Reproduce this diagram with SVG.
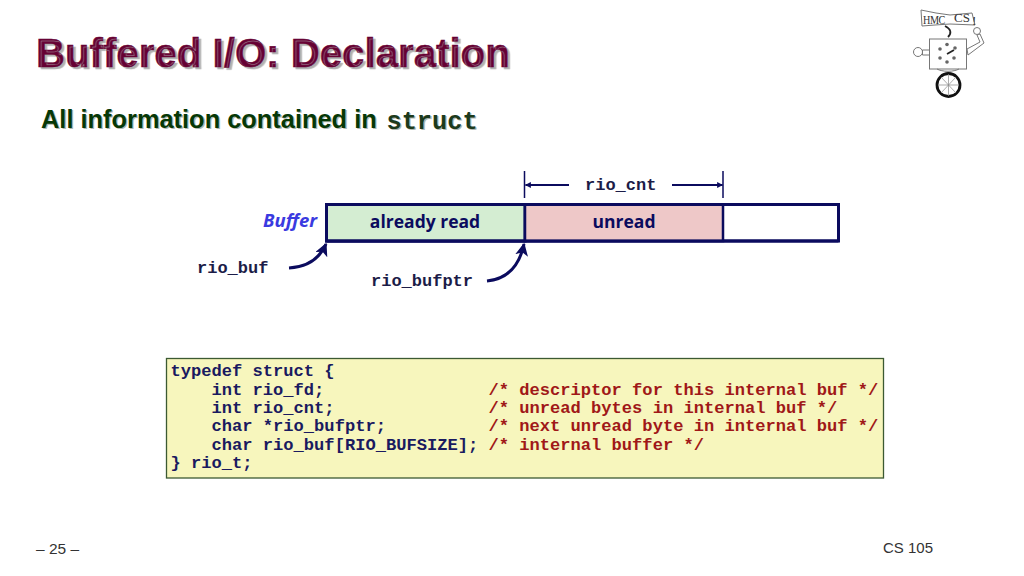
<svg xmlns="http://www.w3.org/2000/svg" width="1024" height="576" viewBox="0 0 1024 576">
<defs>
<style>
text{white-space:pre}
.s{font-family:"Liberation Sans",Arial,sans-serif}
.m{font-family:"Liberation Mono","Courier New",monospace;font-weight:700}
.c{font-family:"Open Sans","Noto Sans",sans-serif;font-weight:700;fill:#0b0b5e;font-size:17.500px}
.lab{font-size:17px;fill:#1c1c48}
.code{font-size:17.100px;fill:#1a1a60}
.cm{font-size:17.100px;fill:#a01818}
.box{stroke:#0b0b5e;stroke-width:3}
.ln{stroke:#0b0b5e;fill:none}
.lg{stroke:#777;stroke-width:1;fill:#fff}
.t{text-shadow:2.500px 2.500px .8px #b0b0b0}
.st{text-shadow:1.300px 1.300px .6px #b0b8b0}
</style>
<marker id="dim" viewBox="0 0 10 10" refX="9" refY="5" markerWidth="6" markerHeight="6" orient="auto-start-reverse" markerUnits="userSpaceOnUse"><path d="M0 0L10 5L0 10z" fill="#0b0b5e"/></marker>
<marker id="cur" viewBox="0 0 10 10" refX="9" refY="5" markerWidth="13" markerHeight="13" orient="auto" markerUnits="userSpaceOnUse"><path d="M0 0L10 5L0 10L2.500 5z" fill="#0b0b5e"/></marker>
</defs>
<rect width="1024" height="576" fill="#fff"/>
<g id="title">
<text class="s t" x="36" y="66.500" font-size="40" font-weight="700" letter-spacing=".1" fill="#660033" stroke="#660033" stroke-width=".5">Buffered I/O: Declaration</text>
</g>
<g id="subtitle">
<text class="s st" x="41" y="128" font-size="25.400" font-weight="700" fill="#063806">All information contained in</text>
<text class="m st" x="386.500" y="129" font-size="25.300" fill="#1c3a1c">struct</text>
</g>
<g id="logo">
<path class="lg" d="M921 10L936 13L950 15L972 13L975 25L950 24L935 25L922 26z"/>
<text x="923" y="24" font-family="'Liberation Serif',serif" font-size="13" letter-spacing="-.5" textLength="22" lengthAdjust="spacingAndGlyphs" fill="#333">HMC</text>
<text x="954" y="22" font-family="'Liberation Serif',serif" font-size="13" fill="#333">CS</text>
<text x="972" y="25" font-family="'Liberation Serif',serif" font-size="13" fill="#333">!</text>
<path d="M945 26C951 29 952 33 948 37" fill="none" stroke="#222" stroke-width="1.800"/>
<rect class="lg" x="929.500" y="39" width="37" height="30"/>
<circle class="lg" cx="918" cy="52" r="4.500"/>
<path class="lg" d="M922.500 50L929.500 50L929.500 55L922.500 55z"/>
<path class="lg" d="M967 49L980 42L977 35L980 34L984 43L968 55z"/>
<circle class="lg" cx="977" cy="31" r="3.500"/>
<g fill="#666"><circle cx="947" cy="44.500" r="1.800"/><circle cx="955" cy="48" r="1.800"/><circle cx="954" cy="58" r="1.800"/><circle cx="947" cy="62" r="1.800"/><circle cx="940" cy="58" r="1.800"/><circle cx="940" cy="49" r="1.800"/></g>
<path d="M947 54L954 50" stroke="#222" stroke-width="1.800"/>
<path d="M937 69C942 72 954 72 959 69M948 72V76" fill="none" stroke="#777"/>
<circle cx="948.500" cy="85" r="11.500" fill="#fff" stroke="#111" stroke-width="2.800"/>
<path d="M948.500 74V96M938 85H959M941 77L956 93M956 77L941 93" stroke="#888" stroke-width=".7"/>
</g>
<g id="buffer">
<text x="317" y="227" text-anchor="end" font-family="'Open Sans','Noto Sans',sans-serif" font-size="18.500" font-weight="700" font-style="italic" fill="#3a3ae0">Buffer</text>
<rect x="326.500" y="204.500" width="512" height="36.500" fill="#fff" class="box"/>
</g>
<g id="already-read">
<rect x="326.500" y="204.500" width="198.500" height="36.500" fill="#d4edd2" class="box"/>
<text class="c" x="425" y="228" text-anchor="middle">already read</text>
</g>
<g id="unread">
<rect x="525" y="204.500" width="198" height="36.500" fill="#eec8c8" class="box" style="stroke-width:2.500"/>
<path d="M326.500 204.500H838.500M326.500 241H838.500" class="box" fill="none"/>
<text class="c" x="624" y="228" text-anchor="middle">unread</text>
</g>
<g id="labels">
<text class="m lab" x="197" y="272.500">rio_buf</text>
<text class="m lab" x="371" y="285.500">rio_bufptr</text>
<text class="m lab" x="585" y="189.500">rio_cnt</text>
</g>
<g id="connectors">
<path class="ln" stroke-width="1.500" d="M524.500 171V198M723 171V198"/>
<path class="ln" stroke-width="2" marker-end="url(#dim)" d="M569 185H525.500"/>
<path class="ln" stroke-width="2" marker-end="url(#dim)" d="M672 185H722.500"/>
<path class="ln" stroke-width="3" marker-end="url(#cur)" d="M289 268C307 267 319 260 326 244"/>
<path class="ln" stroke-width="3" marker-end="url(#cur)" d="M487 281C506 279 519 268 524 244"/>
</g>
<g id="code">
<rect x="166.500" y="358.500" width="717" height="119.500" fill="#f7f6bd" stroke="#3c5a32" stroke-width="1.300"/>
<text class="m code" x="170.500" y="376">typedef struct {</text>
<text class="m code" x="170.500" y="394.500">    int rio_fd;</text>
<text class="m code" x="170.500" y="413">    int rio_cnt;</text>
<text class="m code" x="170.500" y="431">    char *rio_bufptr;</text>
<text class="m code" x="170.500" y="449.500">    char rio_buf[RIO_BUFSIZE];</text>
<text class="m code" x="170.500" y="468">} rio_t;</text>
<text class="m cm" x="488.500" y="394.500">/* descriptor for this internal buf */</text>
<text class="m cm" x="488.500" y="413">/* unread bytes in internal buf */</text>
<text class="m cm" x="488.500" y="431">/* next unread byte in internal buf */</text>
<text class="m cm" x="488.500" y="449.500">/* internal buffer */</text>
</g>
<g id="footer">
<text class="s" x="36" y="554" font-size="15.500" fill="#333">– 25 –</text>
<text class="s" x="883" y="553" font-size="15" fill="#333">CS 105</text>
</g>
</svg>
